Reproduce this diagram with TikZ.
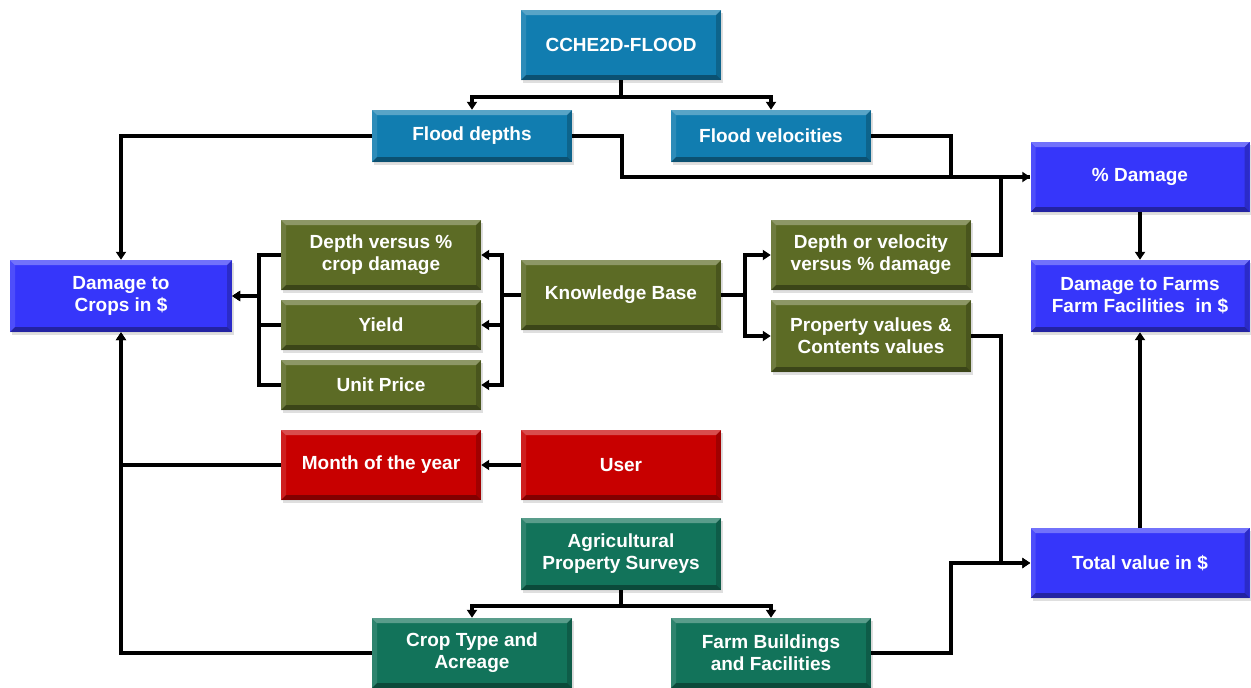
\documentclass[tikz,border=0pt]{standalone}
\usepackage{fontspec}
\setmainfont{Liberation Sans}
\usetikzlibrary{arrows.meta,shadows}
\definecolor{cteal}{HTML}{117DB0}
\definecolor{cblue}{HTML}{3636FA}
\definecolor{colive}{HTML}{5C6B25}
\definecolor{cred}{HTML}{C80000}
\definecolor{cgreen}{HTML}{12735A}
\newcommand\boxfont{\fontsize{19}{22}\selectfont\bfseries}
\tikzset{
  bev/.style={path picture={
    \fill[white,opacity=0.3] (path picture bounding box.north west) -- (path picture bounding box.north east)
      -- ([xshift=-5pt,yshift=-5pt]path picture bounding box.north east) -- ([xshift=5pt,yshift=-5pt]path picture bounding box.north west) -- cycle;
    \fill[white,opacity=0.12] (path picture bounding box.north west) -- ([xshift=5pt,yshift=-5pt]path picture bounding box.north west)
      -- ([xshift=5pt,yshift=5pt]path picture bounding box.south west) -- (path picture bounding box.south west) -- cycle;
    \fill[black,opacity=0.2] (path picture bounding box.north east) -- ([xshift=-5pt,yshift=-5pt]path picture bounding box.north east)
      -- ([xshift=-5pt,yshift=5pt]path picture bounding box.south east) -- (path picture bounding box.south east) -- cycle;
    \fill[black,opacity=0.35] (path picture bounding box.south west) -- (path picture bounding box.south east)
      -- ([xshift=-5pt,yshift=5pt]path picture bounding box.south east) -- ([xshift=5pt,yshift=5pt]path picture bounding box.south west) -- cycle;
  }},
  box/.style={fill=#1, text=white, font=\boxfont, align=center, inner sep=0pt,
    minimum width=200pt, minimum height=70pt, bev,
    drop shadow={shadow xshift=2pt, shadow yshift=-3pt, opacity=0.25}},
  conn/.style={line width=4pt, black},
  arr/.style={conn, -{Triangle[length=8pt,width=10pt]}}
}
\begin{document}
\begin{tikzpicture}[x=1pt,y=-1pt]
\useasboundingbox (0,0) rectangle (1251,688);
\node[box=cteal] (cche) at (621,45) {CCHE2D-FLOOD};
\node[box=cteal, minimum height=52pt] (fd) at (472,136) {Flood depths};
\node[box=cteal, minimum height=52pt] (fv) at (771,136) {Flood velocities};
\node[box=cblue, minimum width=219pt] (pd) at (1140,177) {\% Damage};
\node[box=cblue, minimum width=222pt, minimum height=72pt] (dc) at (121,296) {Damage to\\Crops in \$};
\node[box=colive] (dvc) at (381,255) {Depth versus \%\\crop damage};
\node[box=colive, minimum height=50pt] (yl) at (381,325) {Yield};
\node[box=colive, minimum height=50pt] (up) at (381,385) {Unit Price};
\node[box=colive] (kb) at (621,295) {Knowledge Base};
\node[box=colive] (dv) at (871,255) {Depth or velocity\\versus \% damage};
\node[box=colive, minimum height=72pt] (pv) at (871,336) {Property values \&\\Contents values};
\node[box=cblue, minimum width=219pt, minimum height=72pt] (df) at (1140,296) {Damage to Farms\\Farm Facilities~ in \$};
\node[box=cred] (mo) at (381,465) {Month of the year};
\node[box=cred] (us) at (621,465) {User};
\node[box=cgreen, minimum height=72pt] (ag) at (621,554) {Agricultural\\Property Surveys};
\node[box=cgreen] (ct) at (472,653) {Crop Type and\\Acreage};
\node[box=cgreen] (fb) at (771,653) {Farm Buildings\\and Facilities};
\node[box=cblue, minimum width=219pt] (tv) at (1140,563) {Total value in \$};
% top tree
\draw[conn] (cche.south) -- ++(0,17) coordinate (c1);
\draw[arr] (c1) -| (fd.north);
\draw[arr] (c1) -| (fv.north);
\draw[arr] (fd.west) -| (dc.north);
\draw[arr] (fd.east) -- ++(50,0) |- (pd.west);
\draw[conn] (fv.east) -- ++(80,0) |- (pd.west);
\draw[conn] (dv.east) -- ++(30,0) |- (pd.west);
% knowledge base
\draw[conn] (kb.west) -- ++(-19,0) coordinate (k1);
\draw[arr] (k1) |- (dvc.east);
\draw[arr] (k1) |- (yl.east);
\draw[arr] (k1) |- (up.east);
\draw[arr] (kb.east) -- ++(24,0) |- (dv.west);
\draw[arr] (kb.east) -- ++(24,0) |- (pv.west);
\draw[arr] (dvc.west) -- ++(-22,0) |- (dc.east);
\draw[arr] (yl.west) -- ++(-22,0) |- (dc.east);
\draw[arr] (up.west) -- ++(-22,0) |- (dc.east);
% lower left
\draw[arr] (mo.west) -| (dc.south);
\draw[arr] (ct.west) -| (dc.south);
\draw[arr] (us.west) -- (mo.east);
\draw[conn] (ag.south) -- ++(0,16) coordinate (a1);
\draw[arr] (a1) -| (ct.north);
\draw[arr] (a1) -| (fb.north);
% right
\draw[arr] (pv.east) -- ++(30,0) |- (tv.west);
\draw[arr] (fb.east) -- ++(80,0) |- (tv.west);
\draw[arr] (pd.south) -- (df.north);
\draw[arr] (tv.north) -- (df.south);
\end{tikzpicture}
\end{document}
